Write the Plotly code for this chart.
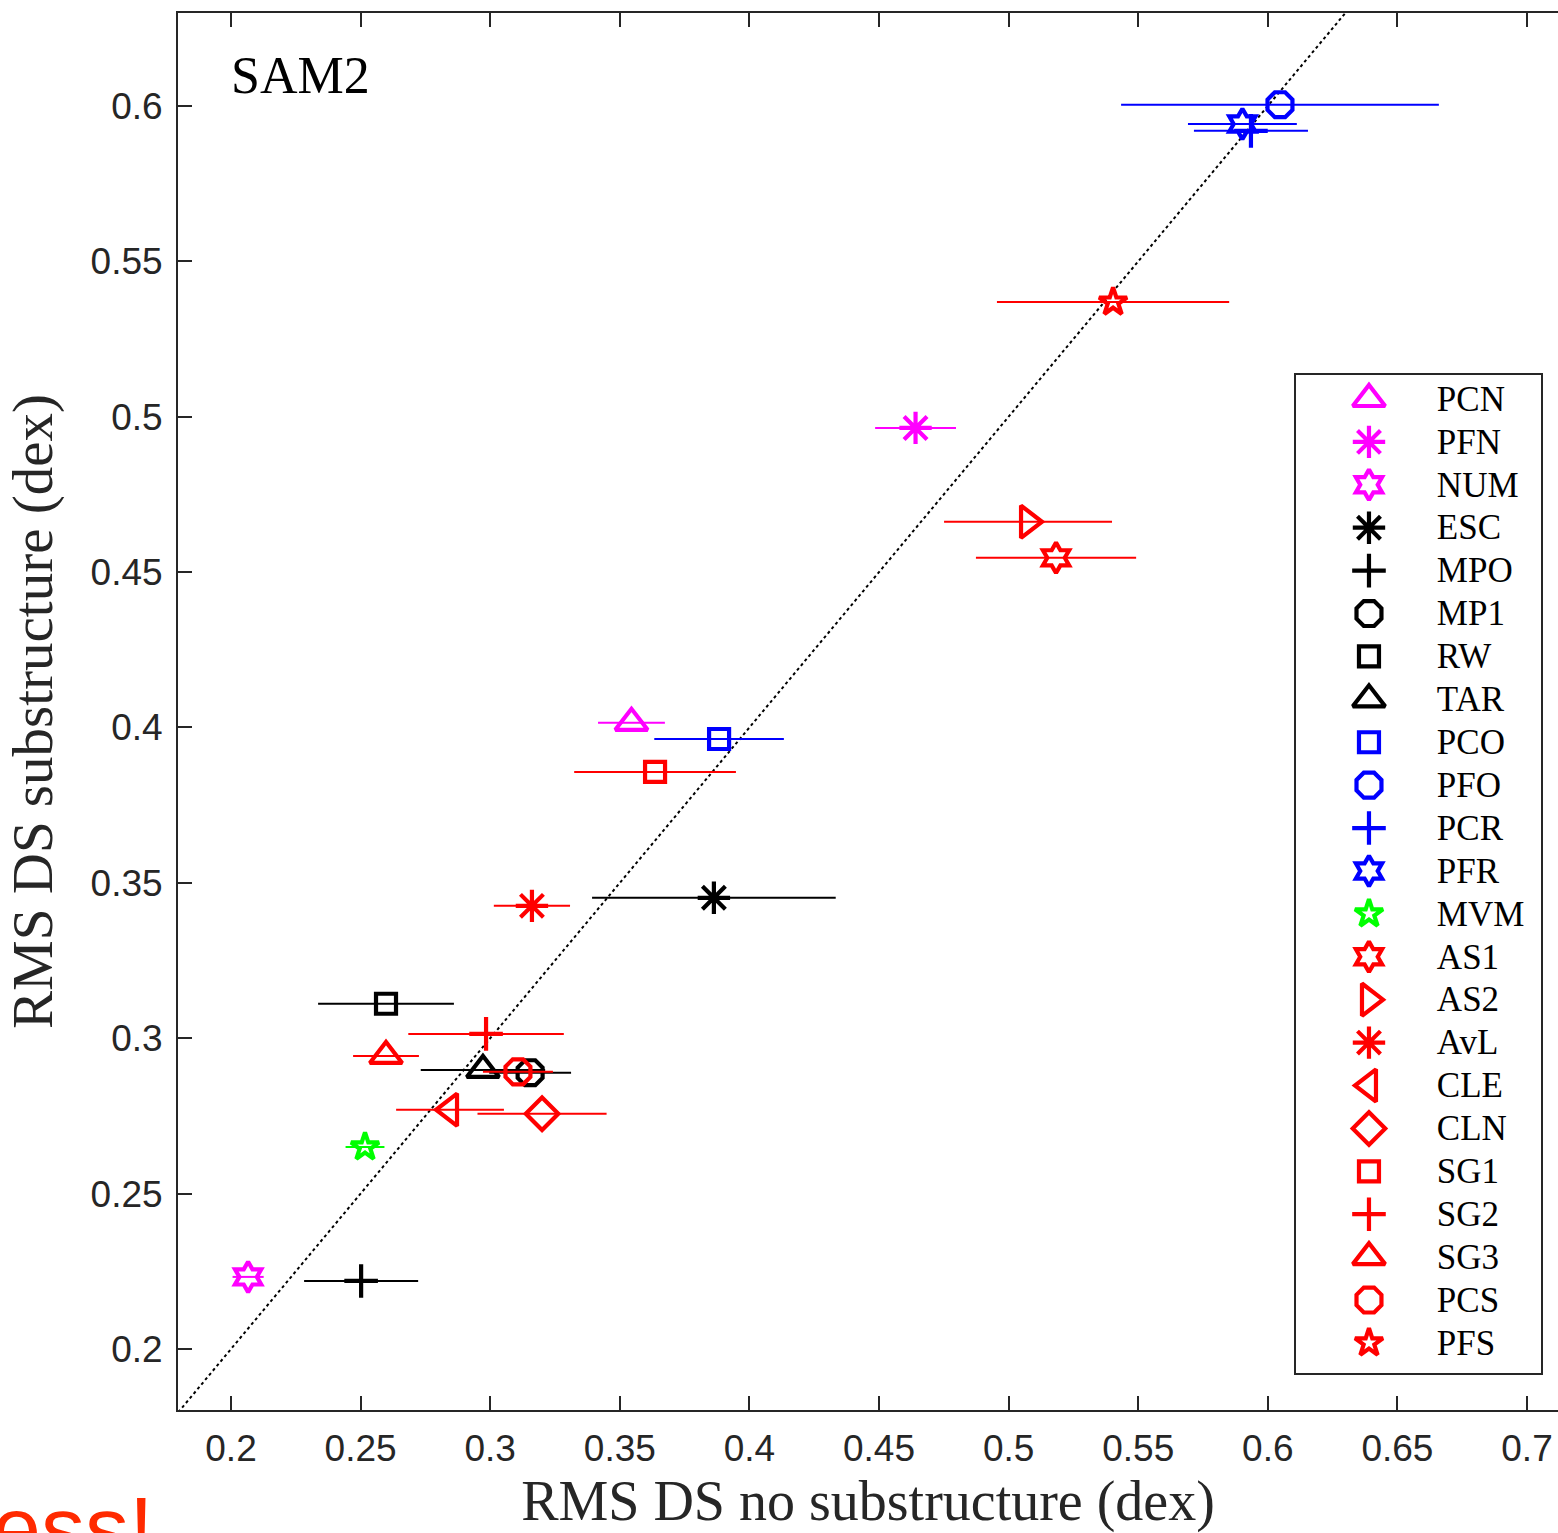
import plotly.graph_objects as go

# ---------------- data ----------------
names = ["PCN", "PFN", "NUM", "ESC", "MPO", "MP1", "RW", "TAR", "PCO", "PFO", "PCR", "PFR",
         "MVM", "AS1", "AS2", "AvL", "CLE", "CLN", "SG1", "SG2", "SG3", "PCS", "PFS"]
rms_no_sub = [0.3545, 0.4641, 0.2066, 0.3863, 0.2502, 0.3154, 0.2598, 0.2972, 0.3883, 0.6047, 0.5935, 0.5902,
              0.2517, 0.5183, 0.5075, 0.3161, 0.2845, 0.3200, 0.3636, 0.2984, 0.2598, 0.3107, 0.5403]
rms_sub = [0.4015, 0.4964, 0.2232, 0.3452, 0.2219, 0.2889, 0.3111, 0.2898, 0.3963, 0.6004, 0.5920, 0.5942,
           0.2650, 0.4546, 0.4662, 0.3426, 0.2770, 0.2757, 0.3857, 0.3014, 0.2943, 0.2892, 0.5369]
err_no_sub = [0.0129, 0.0156, 0.0060, 0.0470, 0.0220, 0.0158, 0.0262, 0.0240, 0.0250, 0.0613, 0.0220, 0.0210,
              0.0075, 0.0309, 0.0324, 0.0147, 0.0208, 0.0249, 0.0312, 0.0300, 0.0127, 0.0135, 0.0448]
x_ticks = [0.2, 0.25, 0.3, 0.35, 0.4, 0.45, 0.5, 0.55, 0.6, 0.65, 0.7]
x_tick_labels = ["0.2", "0.25", "0.3", "0.35", "0.4", "0.45", "0.5", "0.55", "0.6", "0.65", "0.7"]
y_ticks = [0.2, 0.25, 0.3, 0.35, 0.4, 0.45, 0.5, 0.55, 0.6]
y_tick_labels = ["0.2", "0.25", "0.3", "0.35", "0.4", "0.45", "0.5", "0.55", "0.6"]
identity_line = [0.15, 0.70]

# ---------------- styles ----------------
MAG, BLK, BLU, GRN, RED = "#FF00FF", "#000000", "#0000FF", "#00FF00", "#FF0000"
colors = [MAG, MAG, MAG, BLK, BLK, BLK, BLK, BLK, BLU, BLU, BLU, BLU,
          GRN, RED, RED, RED, RED, RED, RED, RED, RED, RED, RED]
symbols = ["triangle-up-open", "asterisk-open", "hexagram-open", "asterisk-open", "cross-thin-open",
           "octagon-open", "square-open", "triangle-up-open", "square-open", "octagon-open",
           "cross-thin-open", "hexagram-open", "star-open", "hexagram-open", "triangle-right-open",
           "asterisk-open", "triangle-left-open", "diamond-open", "square-open", "cross-thin-open",
           "triangle-up-open", "octagon-open", "star-open"]
sym_size = {"triangle-up-open": 28, "triangle-right-open": 28, "triangle-left-open": 28,
            "asterisk-open": 27, "hexagram-open": 23, "cross-thin-open": 24, "octagon-open": 27,
            "square-open": 20, "diamond-open": 25, "star-open": 21}
MLW = 4.2
AXC = "#262626"
SERIF = "Liberation Serif"
SANS = "Liberation Sans"

fig = go.Figure()

# identity reference line
fig.add_trace(go.Scatter(x=identity_line, y=identity_line, mode="lines",
                         line=dict(color="black", width=2, dash="dot"),
                         showlegend=False, hoverinfo="skip"))

for i, nm in enumerate(names):
    c = colors[i]
    s = symbols[i]
    fig.add_trace(go.Scatter(
        x=[rms_no_sub[i]], y=[rms_sub[i]], mode="markers", name=nm, showlegend=False,
        marker=dict(symbol=s, size=sym_size[s], color=c, line=dict(width=MLW, color=c)),
        error_x=dict(type="data", array=[err_no_sub[i]], color=c, thickness=2, width=0),
        xaxis="x", yaxis="y"))

# ---------------- legend drawn in its own small axes ----------------
n = len(names)
row_idx = list(range(n))
for i, nm in enumerate(names):
    c = colors[i]
    s = symbols[i]
    fig.add_trace(go.Scatter(
        x=[0.298], y=[row_idx[i]], mode="markers", showlegend=False, hoverinfo="skip",
        marker=dict(symbol=s, size=sym_size[s], color=c, line=dict(width=MLW, color=c)),
        xaxis="x2", yaxis="y2"))
fig.add_trace(go.Scatter(
    x=[0.575] * n, y=[r + 0.07 for r in row_idx], mode="text", text=names, textposition="middle right",
    textfont=dict(family=SERIF, size=35, color="black"), showlegend=False, hoverinfo="skip",
    xaxis="x2", yaxis="y2"))

fig.update_layout(
    width=1558, height=1533,
    margin=dict(l=178, r=0, t=13, b=123),
    paper_bgcolor="white", plot_bgcolor="white",
    showlegend=False,
    xaxis=dict(
        domain=[0, 1], range=[0.17955, 0.71196],
        tickvals=x_ticks, ticktext=x_tick_labels,
        ticks="inside", ticklen=14, tickwidth=1.5, tickcolor=AXC,
        showline=True, linecolor=AXC, linewidth=2, mirror="ticks",
        showgrid=False, zeroline=False, ticklabelstandoff=5,
        tickfont=dict(family=SANS, size=37, color=AXC),
        title=dict(text="RMS DS no substructure (dex)", font=dict(family=SERIF, size=56, color=AXC),
                   standoff=20),
    ),
    yaxis=dict(
        domain=[0, 1], range=[0.18037, 0.62992],
        tickvals=y_ticks, ticktext=y_tick_labels,
        ticks="inside", ticklen=14, tickwidth=1.5, tickcolor=AXC,
        showline=True, linecolor=AXC, linewidth=2, mirror=False,
        showgrid=False, zeroline=False, ticklabelstandoff=6,
        tickfont=dict(family=SANS, size=37, color=AXC),
        title=dict(text="RMS DS substructure (dex)", font=dict(family=SERIF, size=57, color=AXC),
                   standoff=20),
    ),
    xaxis2=dict(domain=[0.8101, 0.9877], range=[0, 1], anchor="y2",
                showline=True, linecolor=AXC, linewidth=1.5, mirror=True,
                showticklabels=False, ticks="", showgrid=False, zeroline=False, fixedrange=True),
    yaxis2=dict(domain=[0.0265, 0.7409], range=[n - 1 + 0.70, -0.56], anchor="x2",
                showline=True, linecolor=AXC, linewidth=1.5, mirror=True,
                showticklabels=False, ticks="", showgrid=False, zeroline=False, fixedrange=True),
    annotations=[
        dict(text="SAM2", xref="paper", yref="paper", x=0.0370, y=0.9550,
             xanchor="left", yanchor="middle", showarrow=False,
             font=dict(family=SERIF, size=52, color="black")),
        dict(text="ess!", xref="paper", yref="paper", x=-0.136, y=-0.084,
             xanchor="left", yanchor="middle", showarrow=False,
             font=dict(family=SANS, size=88, color="#FF2A00")),
    ],
)

fig.write_html("out.html")
